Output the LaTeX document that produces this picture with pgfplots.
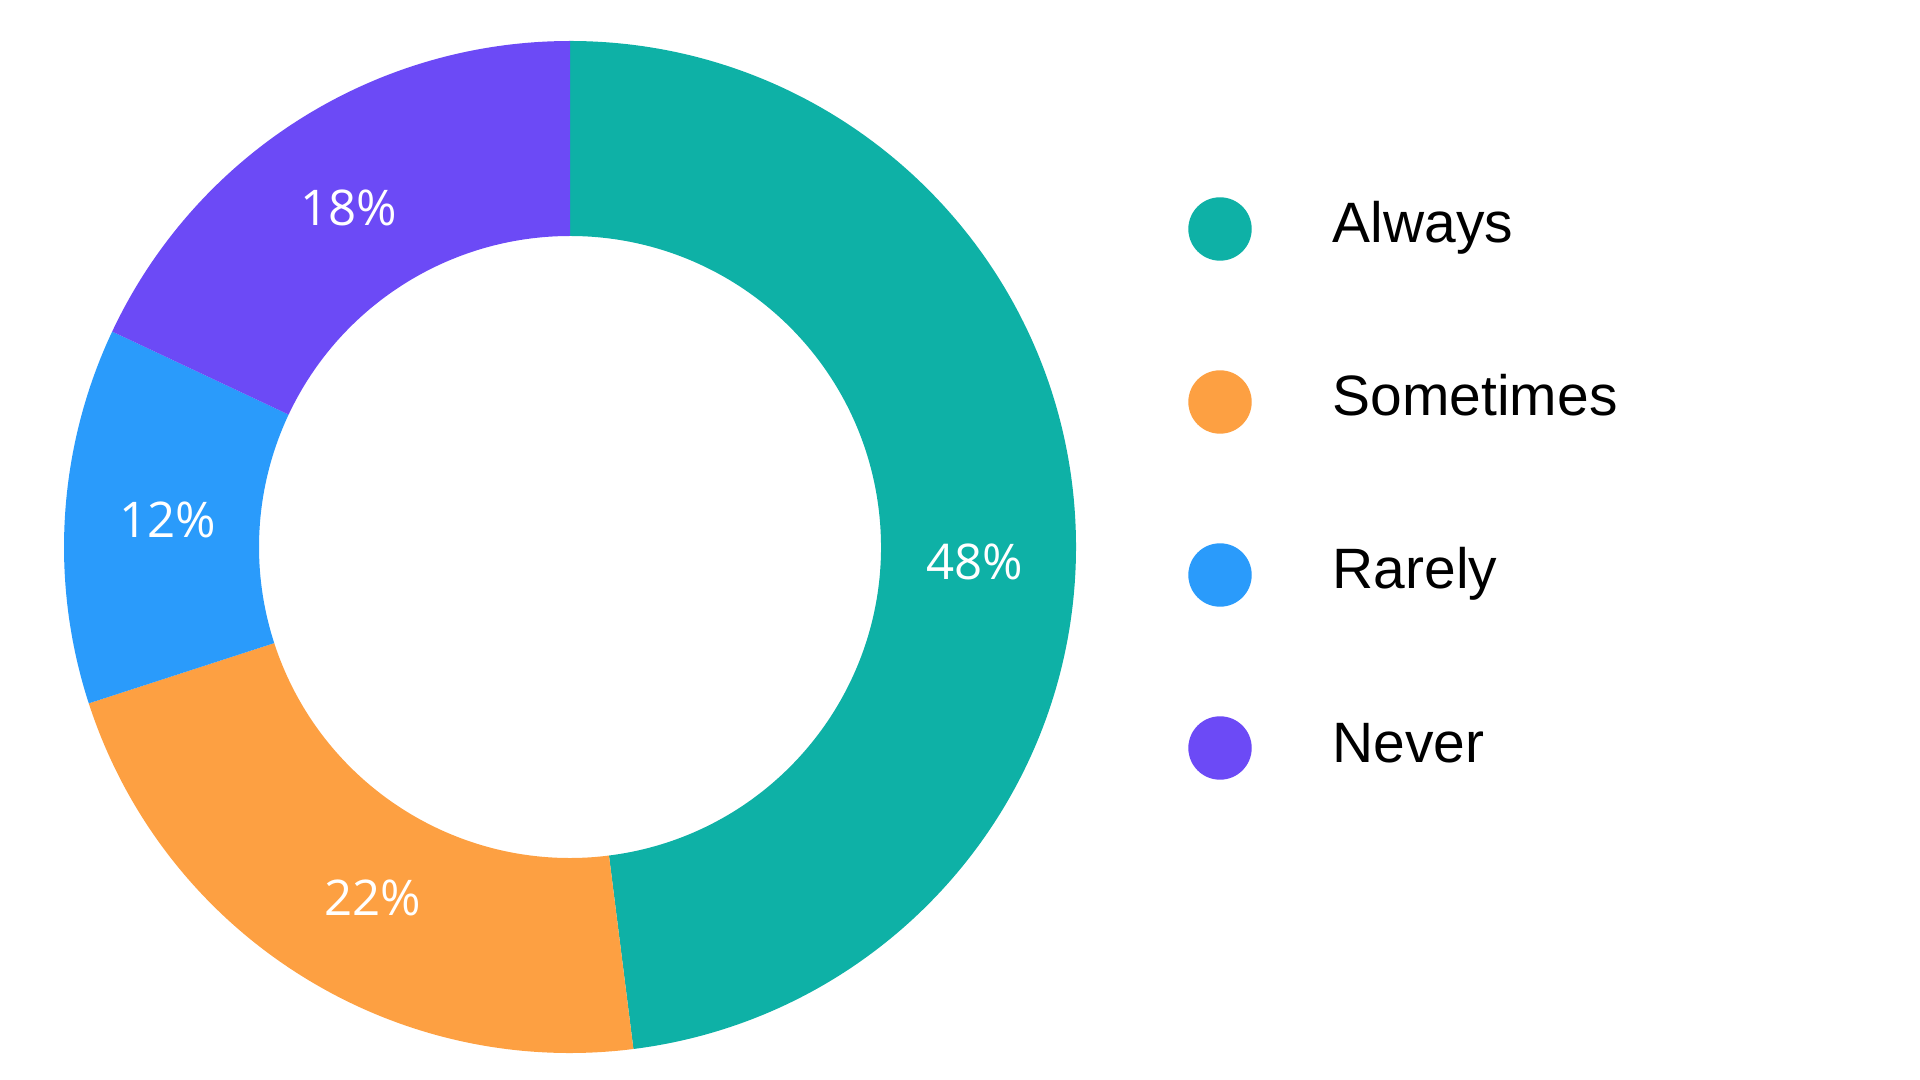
\documentclass[border=0pt]{standalone}
\usepackage{fontspec}
\setmainfont{Liberation Sans}
\newfontfamily\pctfont{Open Sans}
\usepackage{pgfplots}
\usepackage{pgfplotstable}
\pgfplotsset{compat=1.18}
\definecolor{cAlways}{HTML}{0EB1A6}
\definecolor{cSometimes}{HTML}{FDA042}
\definecolor{cRarely}{HTML}{2A9BFB}
\definecolor{cNever}{HTML}{6C4AF6}
\pgfplotstableread{
label value
Always 48
Sometimes 22
Rarely 12
Never 18
}\shares
\begin{document}
\begin{tikzpicture}
\useasboundingbox (0,0) rectangle (192mm,107.9mm);
\pgfplotstablegetelem{0}{value}\of\shares \let\vA\pgfplotsretval
\pgfplotstablegetelem{1}{value}\of\shares \let\vS\pgfplotsretval
\pgfplotstablegetelem{2}{value}\of\shares \let\vR\pgfplotsretval
\pgfplotstablegetelem{3}{value}\of\shares \let\vN\pgfplotsretval
\pgfmathsetmacro\aA{90-3.6*\vA}
\pgfmathsetmacro\aS{\aA-3.6*\vS}
\pgfmathsetmacro\aR{\aS-3.6*\vR}
\pgfmathsetmacro\aN{\aR-3.6*\vN}
\def\Ro{50.6mm}
\def\Ri{31.1mm}
\begin{axis}[at={(0,0)}, anchor=south west, x=0.1mm, y=0.1mm,
  xmin=0, xmax=1920, ymin=0, ymax=1079, hide axis, clip=false]
\fill[cAlways, shift={(axis cs:570,532)}] (90:\Ro) arc[start angle=90, end angle=\aA, radius=\Ro] -- (\aA:\Ri) arc[start angle=\aA, end angle=90, radius=\Ri] -- cycle;
\fill[cSometimes, shift={(axis cs:570,532)}] (\aA:\Ro) arc[start angle=\aA, end angle=\aS, radius=\Ro] -- (\aS:\Ri) arc[start angle=\aS, end angle=\aA, radius=\Ri] -- cycle;
\fill[cRarely, shift={(axis cs:570,532)}] (\aS:\Ro) arc[start angle=\aS, end angle=\aR, radius=\Ro] -- (\aR:\Ri) arc[start angle=\aR, end angle=\aS, radius=\Ri] -- cycle;
\fill[cNever, shift={(axis cs:570,532)}] (\aR:\Ro) arc[start angle=\aR, end angle=\aN, radius=\Ro] -- (\aN:\Ri) arc[start angle=\aN, end angle=\aR, radius=\Ri] -- cycle;
% percentage labels
\node[font=\pctfont\fontsize{14}{16}\selectfont, text=white] at (axis cs:975,517) {48\%};
\node[font=\pctfont\fontsize{14}{16}\selectfont, text=white] at (axis cs:373,181) {22\%};
\node[font=\pctfont\fontsize{14}{16}\selectfont, text=white] at (axis cs:168,559) {12\%};
\node[font=\pctfont\fontsize{14}{16}\selectfont, text=white] at (axis cs:349,871) {18\%};
% legend markers
\addplot[only marks, mark=*, mark size=3.1mm, color=cAlways] coordinates {(1220,850)};
\addplot[only marks, mark=*, mark size=3.1mm, color=cSometimes] coordinates {(1220,677)};
\addplot[only marks, mark=*, mark size=3.1mm, color=cRarely] coordinates {(1220,504)};
\addplot[only marks, mark=*, mark size=3.1mm, color=cNever] coordinates {(1220,331)};
\node[anchor=base west, inner sep=0pt, font=\fontsize{16.2}{20}\selectfont] at (axis cs:1332,836) {Always};
\node[anchor=base west, inner sep=0pt, font=\fontsize{16.2}{20}\selectfont] at (axis cs:1332,663) {Sometimes};
\node[anchor=base west, inner sep=0pt, font=\fontsize{16.2}{20}\selectfont] at (axis cs:1332,490) {Rarely};
\node[anchor=base west, inner sep=0pt, font=\fontsize{16.2}{20}\selectfont] at (axis cs:1332,317) {Never};
\end{axis}
\end{tikzpicture}
\end{document}
